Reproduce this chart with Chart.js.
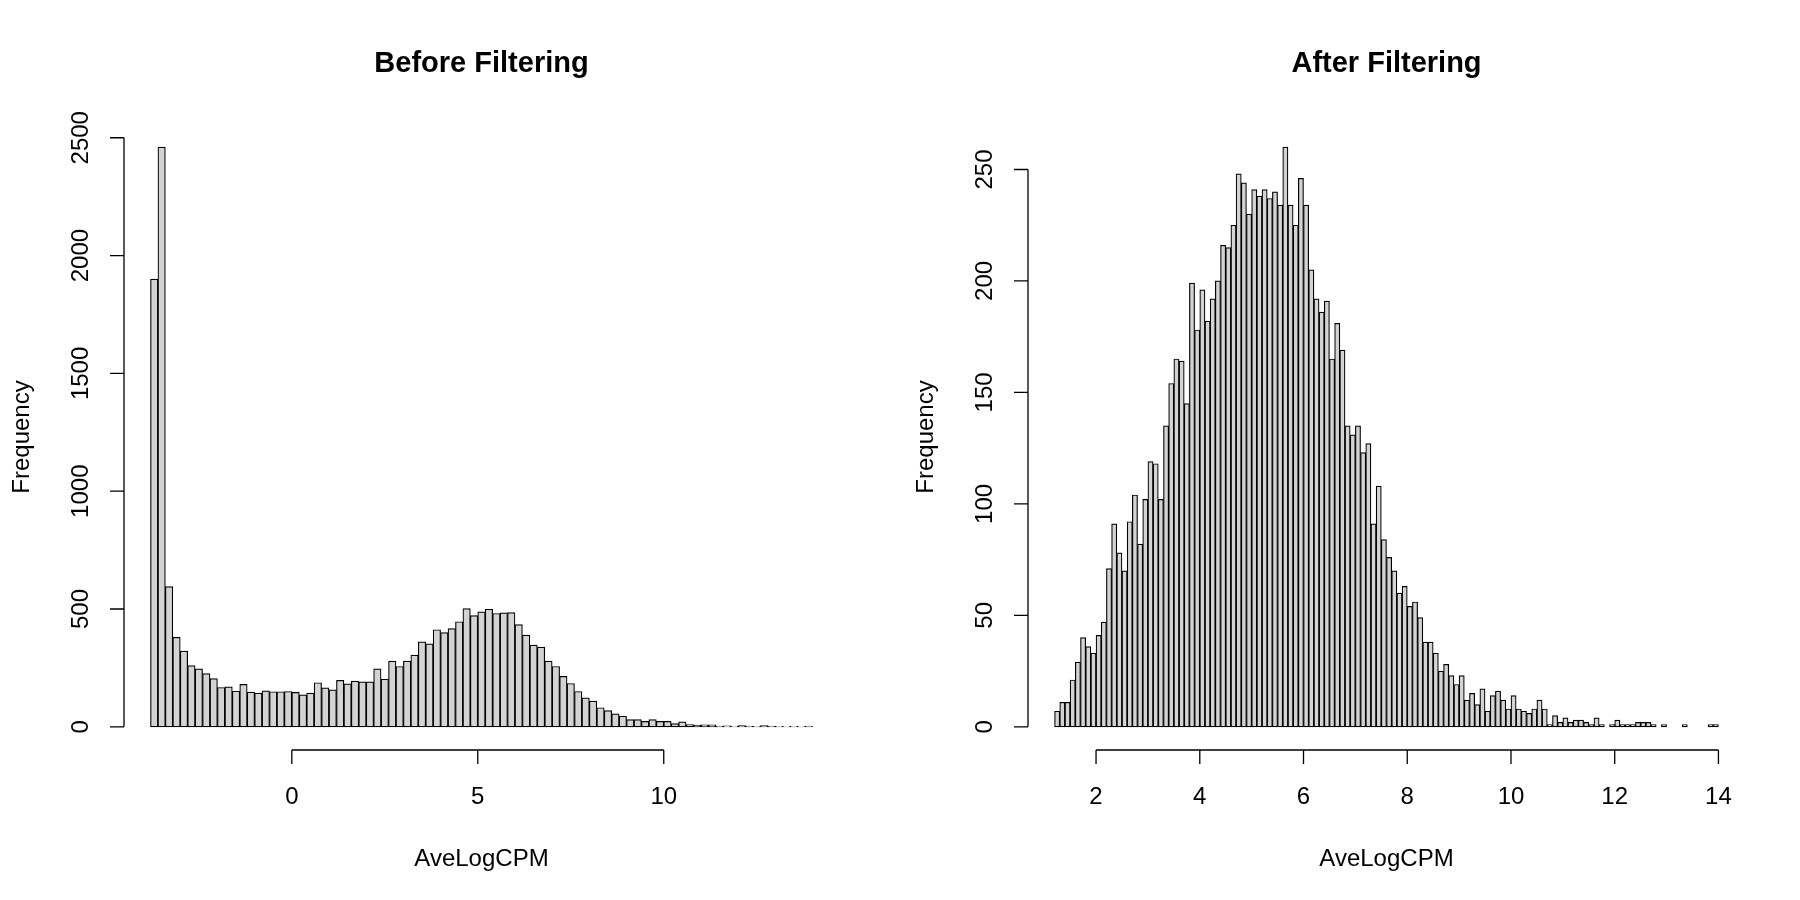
<!DOCTYPE html>
<html><head><meta charset="utf-8">
<script src="https://cdn.jsdelivr.net/npm/chart.js@4"></script>
<style>
html,body{margin:0;padding:0;background:#fff;width:1800px;height:900px;overflow:hidden}
.box{position:absolute;top:0;width:900px;height:900px}
</style></head><body>
<div class="box" style="left:0"><canvas id="c1" width="900" height="900"></canvas></div>
<div class="box" style="left:900px"><canvas id="c2" width="900" height="900"></canvas></div>
<script>
// Before filtering: bins of width 0.2 starting at -3.8
const beforeStart = -3.8, beforeWidth = 0.2;
const beforeCounts = [1900,2460,595,380,321,260,246,226,205,167,170,151,180,147,143,153,149,149,150,146,136,143,187,165,157,197,182,194,191,191,246,202,279,256,279,304,361,352,412,400,417,446,502,472,488,
499,481,484,485,434,389,347,338,279,256,214,184,150,123,109,81,69,55,45,31,31,23,31,23,23,14,21,10,7,8,8,
3,4,2,5,3,2,5,3,2,1,2,1,3];
const beforeXTicks = [0,5,10];
const beforeYTicks = [0,500,1000,1500,2000,2500];

// After filtering: bins of width 0.1 starting at 1.2
const afterStart = 1.2, afterWidth = 0.1;
const afterCounts = [7,11,11,21,29,40,36,33,41,47,71,91,78,70,92,104,82,102,119,118,102,135,154,165,164,145,199,178,196,182,192,200,216,215,225,248,244,230,241,238,241,237,
240,234,260,234,225,246,234,205,192,186,191,165,181,169,135,131,135,123,127,91,108,84,76,70,60,63,54,56,49,38,38,33,25,28,23,19,23,12,15,10,17,7,14,16,
12,8,14,8,7,6,8,12,8,1,5,2,4,2,3,3,2,1,4,1,0,1,3,1,1,1,2,2,2,1,0,1,0,0,0,1,0,0,0,0,1,1];
const afterXTicks = [2,4,6,8,10,12,14];
const afterYTicks = [0,50,100,150,200,250];

const FONT = '"Liberation Sans", Arial, sans-serif';

function rAxes(opts){
  return {
    id:'rAxes',
    afterDraw(chart){
      const ctx = chart.ctx, xs = chart.scales.x, ys = chart.scales.y, ca = chart.chartArea;
      ctx.save();
      ctx.strokeStyle = '#000'; ctx.fillStyle = '#000'; ctx.lineWidth = 1.3;
      const axY = ca.bottom, axX = ca.left, tl = 14;
      // x axis
      const xt = opts.xTicks;
      ctx.beginPath();
      ctx.moveTo(xs.getPixelForValue(xt[0]), axY);
      ctx.lineTo(xs.getPixelForValue(xt[xt.length-1]), axY);
      xt.forEach(v=>{const p=xs.getPixelForValue(v); ctx.moveTo(p,axY); ctx.lineTo(p,axY+tl);});
      ctx.stroke();
      ctx.font = '24px ' + FONT; ctx.textAlign='center'; ctx.textBaseline='middle';
      xt.forEach(v=>ctx.fillText(String(v), xs.getPixelForValue(v), 797));
      // y axis
      const yt = opts.yTicks;
      ctx.beginPath();
      ctx.moveTo(axX, ys.getPixelForValue(yt[0]));
      ctx.lineTo(axX, ys.getPixelForValue(yt[yt.length-1]));
      yt.forEach(v=>{const p=ys.getPixelForValue(v); ctx.moveTo(axX,p); ctx.lineTo(axX-tl,p);});
      ctx.stroke();
      ctx.textBaseline='alphabetic';
      yt.forEach(v=>{
        ctx.save(); ctx.translate(axX-36, ys.getPixelForValue(v)); ctx.rotate(-Math.PI/2);
        ctx.fillText(String(v),0,0); ctx.restore();
      });
      // labels
      const cx = (ca.left+ca.right)/2;
      ctx.fillText('AveLogCPM', cx, 866);
      ctx.save(); ctx.translate(axX-95, (ca.top+ca.bottom)/2); ctx.rotate(-Math.PI/2);
      ctx.fillText('Frequency',0,0); ctx.restore();
      ctx.font = 'bold 29px ' + FONT; ctx.textBaseline='middle';
      ctx.fillText(opts.title, cx, 64);
      ctx.restore();
    }
  };
}

function makeChart(id, start, width, counts, xTicks, yTicks, title, pad){
  const data = counts.map((c,i)=>({x: start + (i+0.5)*width, y: c}));
  const xmin = start, xmax = start + counts.length*width;
  const ymax = Math.max(...counts);
  const px = (xmax-xmin)*0.04, py = ymax*0.04;
  new Chart(document.getElementById(id), {
    type:'bar',
    data:{datasets:[{data, backgroundColor:'#D3D3D3', borderColor:'#000', borderWidth:1.2,
      borderSkipped:false, barPercentage:1, categoryPercentage:1, minBarLength:0}]},
    options:{
      responsive:false, animation:false, devicePixelRatio:1,
      layout:{padding:pad},
      plugins:{legend:{display:false}, tooltip:{enabled:false}},
      scales:{
        x:{type:'linear', min:xmin-px, max:xmax+px, display:false, offset:false},
        y:{min:-py, max:ymax+py, display:false}
      }
    },
    plugins:[rAxes({xTicks, yTicks, title})]
  });
}

makeChart('c1', beforeStart, beforeWidth, beforeCounts, beforeXTicks, beforeYTicks, 'Before Filtering',
  {left:124, right:61, top:124, bottom:150});
makeChart('c2', afterStart, afterWidth, afterCounts, afterXTicks, afterYTicks, 'After Filtering',
  {left:128, right:55, top:124, bottom:150});
</script></body></html>
